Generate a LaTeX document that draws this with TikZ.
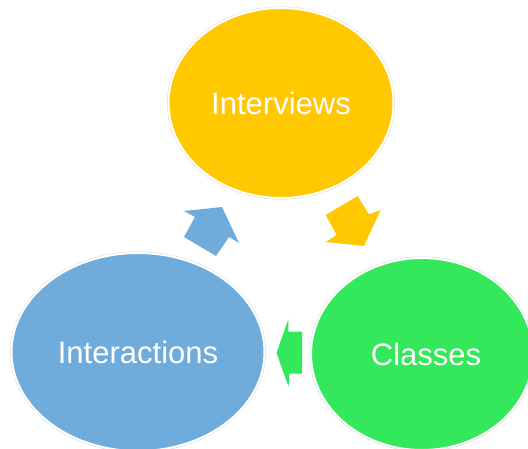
\documentclass[tikz,border=0pt]{standalone}
\usepackage{fontspec}
\setmainfont{Liberation Sans}
\usetikzlibrary{shapes.geometric}
\definecolor{gold}{RGB}{255,200,0}
\definecolor{skyblue}{RGB}{111,172,220}
\definecolor{brightgreen}{RGB}{51,232,90}
\tikzset{
  bubble/.style={ellipse, inner sep=0pt, text=white,
    font=\fontsize{31}{37}\selectfont,
    preaction={draw=black!14, line width=3pt},
    draw=white, line width=2pt},
  blockarrow/.style={draw=none}
}
\begin{document}
\begin{tikzpicture}[x=1pt,y=-1pt]
\useasboundingbox (0,0) rectangle (528,448);
\clip (0,0) rectangle (528,448);
\node[bubble, fill=gold, minimum width=225pt, minimum height=190pt] (intv) at (281,103) {Interviews};
\node[bubble, fill=skyblue, minimum width=253pt, minimum height=198pt] (inter) at (138,352) {Interactions};
\node[bubble, fill=brightgreen, minimum width=222pt, minimum height=192pt] (cls) at (422,354) {\hspace{8pt}Classes};
% blue arrow: Interactions -> Interviews
\fill[blockarrow, skyblue] (184,211) -- (222,207) -- (239,243) -- (229,237) -- (216,256) -- (184,237) -- (195,217) -- cycle;
% gold arrow: Interviews -> Classes
\fill[blockarrow, gold] (325.7,215) -- (357.7,196) -- (368.7,214.3) -- (380.7,210) -- (364,246) -- (325.7,242) -- (336.7,235) -- cycle;
% green arrow: Classes -> Interactions
\fill[blockarrow, brightgreen] (276.5,353) -- (288.3,319.3) -- (288.3,331.7) -- (302,331.7) -- (302,373.7) -- (289.6,373.7) -- (288.5,386.5) -- cycle;
\end{tikzpicture}
\end{document}
